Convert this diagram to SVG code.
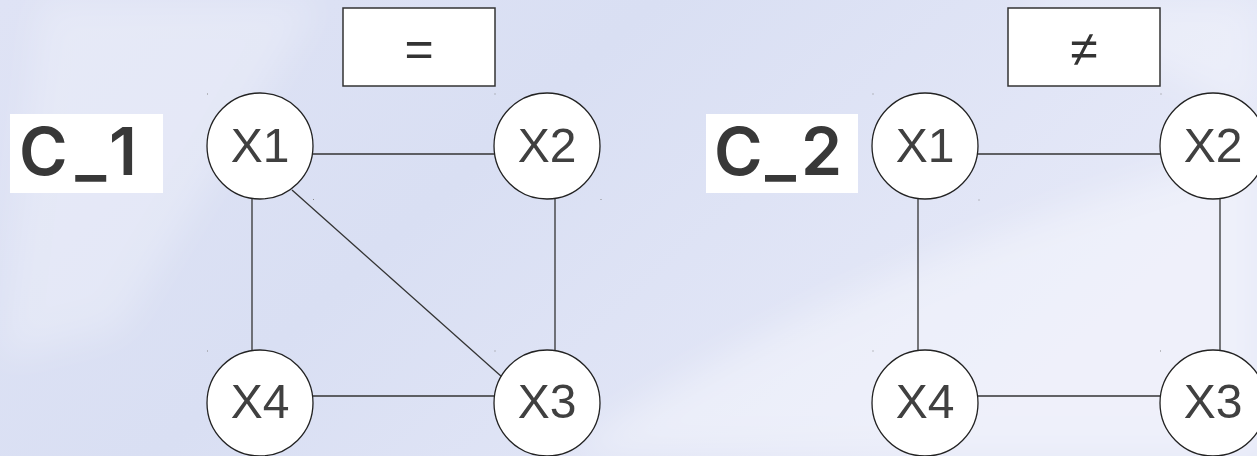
<svg xmlns="http://www.w3.org/2000/svg" width="1257" height="456" viewBox="0 0 1257 456">
  <defs>
    <linearGradient id="bg" x1="0" y1="0" x2="1" y2="0.4">
      <stop offset="0" stop-color="#dfe3f5"/>
      <stop offset="0.45" stop-color="#d9dff3"/>
      <stop offset="1" stop-color="#e6e9f8"/>
    </linearGradient>
    <filter id="soft" x="-20%" y="-20%" width="140%" height="140%">
      <feGaussianBlur stdDeviation="18"/>
    </filter>
    <style>
      .edge { stroke: #333; stroke-width: 1.3; fill: none; }
      .node circle { fill: #fff; stroke: #222; stroke-width: 1.3; }
      .node text { font-family: "Liberation Sans", Arial, sans-serif; font-size: 48px; fill: #404040; text-anchor: middle; }
      .op rect { fill: #fff; stroke: #333; stroke-width: 1.5; }
      .op text { font-family: "Liberation Sans", Arial, sans-serif; font-size: 50px; fill: #333; text-anchor: middle; }
      .title rect { fill: #fff; }
      .title text { font-family: Inter, "Liberation Sans", sans-serif; font-weight: 600; font-size: 66px; fill: #383838; }
      .tick { fill: #888; }
    </style>
  </defs>

  <!-- background wash -->
  <rect width="1257" height="456" fill="url(#bg)"/>
  <g filter="url(#soft)" fill="#fff">
    <path d="M 40 0 L 320 0 L 120 330 L 0 360 Z" opacity="0.25"/>
    <path d="M 560 456 Q 850 260 1257 150 L 1257 456 Z" opacity="0.35"/>
    <path d="M 1000 0 L 1257 0 L 1257 120 Q 1150 60 1000 0 Z" opacity="0.3"/>
  </g>

  <!-- labels -->
  <g id="label-c1" class="title">
    <rect x="10" y="114" width="153" height="79"/>
    <text x="19" y="175" textLength="118" lengthAdjust="spacing">C_1</text>
  </g>
  <g id="label-c2" class="title">
    <rect x="706" y="114" width="152" height="79"/>
    <text x="714" y="175" textLength="128" lengthAdjust="spacing">C_2</text>
  </g>

  <!-- constraint boxes -->
  <g id="op-eq" class="op">
    <rect x="343" y="8" width="152" height="78"/>
    <text x="419" y="66">=</text>
  </g>
  <g id="op-neq" class="op">
    <rect x="1008" y="8" width="152" height="78"/>
    <text x="1084" y="66">≠</text>
  </g>

  <!-- connectors -->
  <g id="edges">
    <line class="edge" x1="313" y1="154" x2="494" y2="154"/>
    <line class="edge" x1="313" y1="396" x2="494" y2="396"/>
    <line class="edge" x1="252" y1="199" x2="252" y2="350"/>
    <line class="edge" x1="555" y1="199" x2="555" y2="350"/>
    <line class="edge" x1="292" y1="190" x2="502" y2="377"/>

    <line class="edge" x1="978" y1="154" x2="1160" y2="154"/>
    <line class="edge" x1="978" y1="396" x2="1160" y2="396"/>
    <line class="edge" x1="918" y1="199" x2="918" y2="350"/>
    <line class="edge" x1="1220" y1="199" x2="1220" y2="350"/>
  </g>

  <!-- graph 1 nodes -->
  <g id="c1-x1" class="node"><circle cx="260" cy="146" r="53"/><text x="260" y="162">X1</text></g>
  <g id="c1-x2" class="node"><circle cx="547" cy="146" r="53"/><text x="547" y="162">X2</text></g>
  <g id="c1-x3" class="node"><circle cx="547" cy="403" r="53"/><text x="547" y="418">X3</text></g>
  <g id="c1-x4" class="node"><circle cx="260" cy="403" r="53"/><text x="260" y="418">X4</text></g>

  <!-- graph 2 nodes -->
  <g id="c2-x1" class="node"><circle cx="925" cy="146" r="53"/><text x="925" y="162">X1</text></g>
  <g id="c2-x2" class="node"><circle cx="1213" cy="146" r="53"/><text x="1213" y="162">X2</text></g>
  <g id="c2-x3" class="node"><circle cx="1213" cy="403" r="53"/><text x="1213" y="418">X3</text></g>
  <g id="c2-x4" class="node"><circle cx="925" cy="403" r="53"/><text x="925" y="418">X4</text></g>

  <!-- selection corner ticks -->
  <g id="ticks" class="tick">
    <rect x="207" y="93.5" width="1" height="1"/>
    <rect x="494.5" y="93.5" width="1" height="1"/>
    <rect x="313" y="199" width="1" height="1"/>
    <rect x="600.5" y="199" width="1" height="1"/>
    <rect x="207" y="350.5" width="1" height="1"/>
    <rect x="494.5" y="350.5" width="1" height="1"/>
    <rect x="872.5" y="93.5" width="1" height="1"/>
    <rect x="978.5" y="199.5" width="1" height="1"/>
    <rect x="1160.5" y="93.5" width="1" height="1"/>
    <rect x="872.5" y="350.5" width="1" height="1"/>
    <rect x="1160" y="350.5" width="1" height="1"/>
  </g>
</svg>
